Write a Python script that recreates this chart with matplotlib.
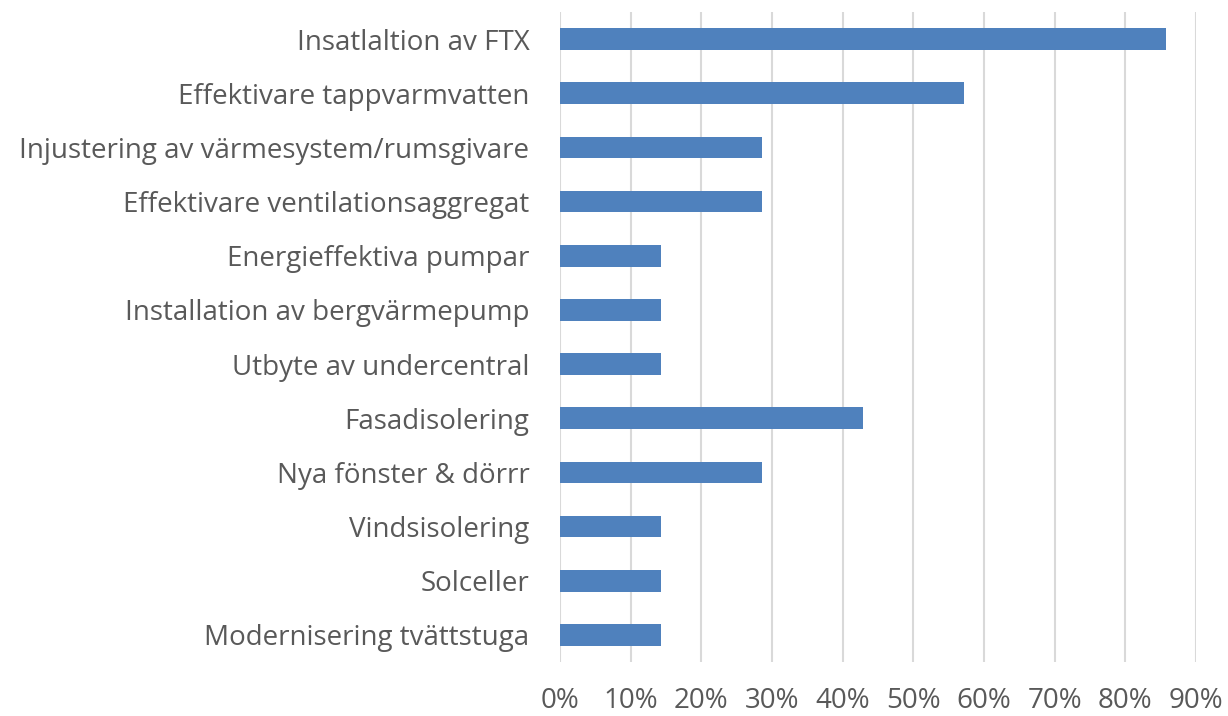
import matplotlib
matplotlib.use("Agg")
import matplotlib.pyplot as plt
from matplotlib.ticker import PercentFormatter

categories = [
    "Insatlaltion av FTX",
    "Effektivare tappvarmvatten",
    "Injustering av värmesystem/rumsgivare",
    "Effektivare ventilationsaggregat",
    "Energieffektiva pumpar",
    "Installation av bergvärmepump",
    "Utbyte av undercentral",
    "Fasadisolering",
    "Nya fönster & dörrr",
    "Vindsisolering",
    "Solceller",
    "Modernisering tvättstuga",
]
values = [85.7, 57.1, 28.6, 28.6, 14.3, 14.3, 14.3, 42.9, 28.6, 14.3, 14.3, 14.3]
xticks = [0, 10, 20, 30, 40, 50, 60, 70, 80, 90]

plt.rcParams['font.family'] = ['Open Sans', 'DejaVu Sans']
text_color = '#595959'

fig = plt.figure(figsize=(12.28, 7.16), dpi=100)
ax = fig.add_axes([560/1228, 1 - 662/716, (1196-560)/1228, 650/716])

ax.barh(range(len(categories)), values, height=0.4, color='#4F81BD', zorder=3)
ax.set_yticks(range(len(categories)))
ax.set_yticklabels(categories, fontsize=20, color=text_color)
ax.set_ylim(11.5, -0.5)
ax.set_xlim(0, 90)
ax.set_xticks(xticks)
ax.xaxis.set_major_formatter(PercentFormatter(decimals=0))
ax.tick_params(axis='x', labelsize=20, labelcolor=text_color, length=0, pad=18)
ax.tick_params(axis='y', length=0, pad=22)
ax.grid(axis='x', color='#d9d9d9', linewidth=1.5, zorder=0)
for s in ax.spines.values():
    s.set_visible(False)

fig.savefig('out.png', dpi=100)
